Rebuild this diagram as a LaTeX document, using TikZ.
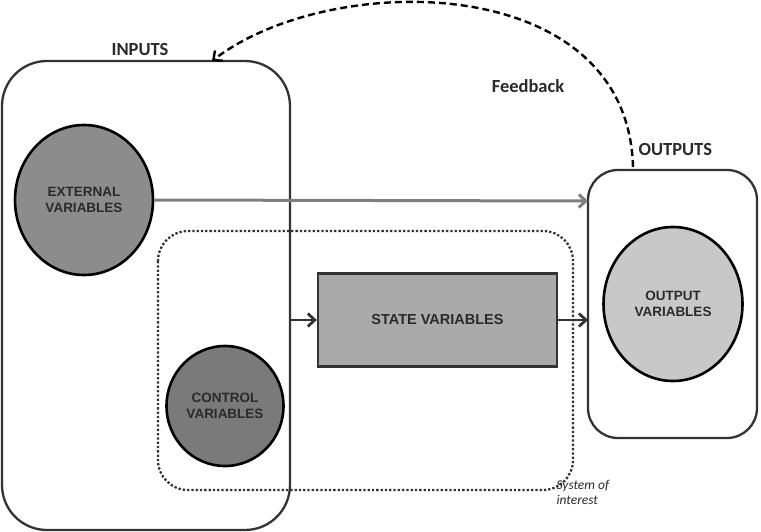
\documentclass[tikz,border=0pt]{standalone}
\usepackage{fontspec}
\setmainfont{Liberation Sans}
\newfontfamily\calib{Carlito}
\usetikzlibrary{arrows.meta,shapes.geometric}
\definecolor{boxline}{HTML}{333333}
\definecolor{extfill}{HTML}{8C8C8C}
\definecolor{ctrlfill}{HTML}{7A7A7A}
\definecolor{statefill}{HTML}{AAAAAA}
\definecolor{outfill}{HTML}{C8C8C8}
\definecolor{txt}{HTML}{2A2A2A}
\definecolor{grayarrow}{HTML}{7F7F7F}
\tikzset{
  group/.style={draw=boxline, line width=2.3pt},
  var/.style={ellipse, draw=black, line width=2.6pt, text=txt, font=\bfseries\fontsize{13.5}{15.5}\selectfont, align=center, inner sep=0pt},
  head/.style={font=\calib\bfseries\fontsize{18.5}{20}\selectfont, text=txt},
  conn/.style={draw=boxline, line width=2.8pt, -{Straight Barb[length=7pt,width=13pt,line width=2.8pt]}},
}
\begin{document}
\begin{tikzpicture}[x=1pt,y=-1pt]
\useasboundingbox (0,0) rectangle (761,532);
% groups
\draw[group, rounded corners=45pt] (2,61) rectangle (290,530);
\draw[group, rounded corners=30pt] (588,170) rectangle (757,438);
\draw[line width=2.3pt, dotted, draw=boxline, rounded corners=30pt] (158,231) rectangle (573,490);
% coordinates on group borders
\coordinate (inR) at (290,320);
\coordinate (outL) at (588,320);
\coordinate (outL2) at (588,201);
\coordinate (fbStart) at (633,167);
\coordinate (fbEnd) at (212,61);
% labels
\node[head] (inputs) at (140,50) {INPUTS};
\node[head, anchor=west] (outputs) at (635,150) {OUTPUTS};
\node[head] (fb) at (528,86) {Feedback};
\node[font=\calib\itshape\fontsize{13.5}{15}\selectfont, text=txt, align=left, anchor=north west] (soi) at (553,477) {System of\\interest};
% nodes
\node[var, fill=extfill, minimum width=138pt, minimum height=150pt] (ext) at (84,200) {EXTERNAL\\VARIABLES};
\node[var, fill=ctrlfill, minimum width=117pt, minimum height=120pt] (ctrl) at (225,406) {CONTROL\\VARIABLES};
\node[var, fill=outfill, minimum width=139pt, minimum height=154pt] (outv) at (673,304) {OUTPUT\\VARIABLES};
\node[draw=boxline, line width=2.3pt, fill=statefill, minimum width=239pt, minimum height=93pt, text=txt, font=\bfseries\fontsize{14.5}{16}\selectfont] (state) at (437.5,320) {STATE VARIABLES};
% connectors
\draw[conn] (inR) -- (state.west);
\draw[conn] (state.east) -- (outL);
\draw[draw=grayarrow, line width=3pt, -{Straight Barb[length=7pt,width=13pt,line width=3pt]}] (ext.east) -- (outL2);
\draw[line width=2.4pt, dash pattern=on 7pt off 4pt, -{Straight Barb[length=7pt,width=13pt,line width=2.4pt]}] (fbStart) .. controls (628,-30) and (330,-30) .. (fbEnd);
\end{tikzpicture}
\end{document}
